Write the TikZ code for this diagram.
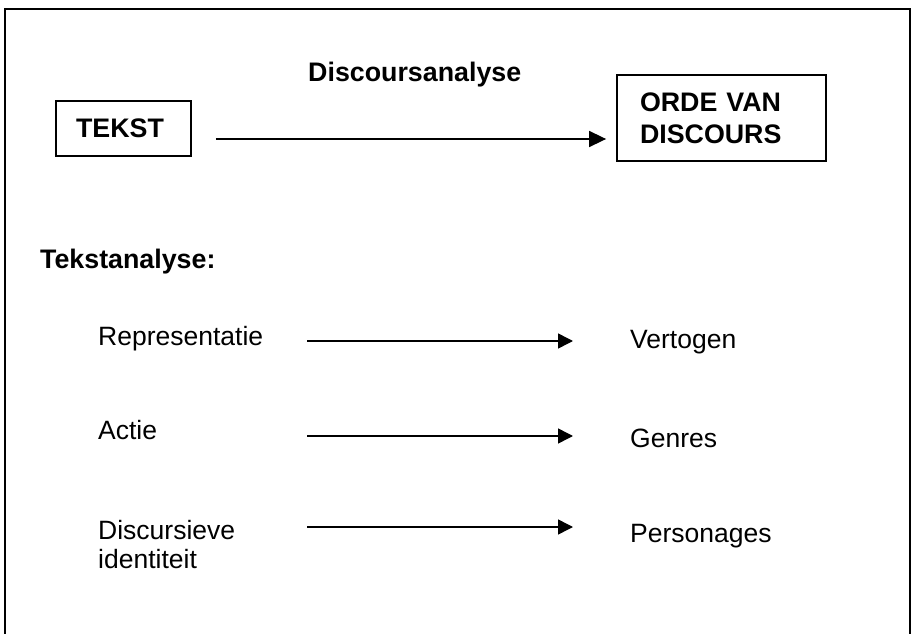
\documentclass[tikz,border=0pt]{standalone}
\usepackage{fontspec}
\setmainfont{Liberation Sans}
\usetikzlibrary{arrows.meta}
\begin{document}
\begin{tikzpicture}[x=1pt,y=-1pt,
  txt/.style={font=\fontsize{26.5}{29}\selectfont, inner sep=0pt, anchor=base west},
  btxt/.style={font=\fontsize{26.8}{32}\selectfont\bfseries, inner sep=0pt, anchor=base west},
  boxnode/.style={draw, line width=1.8pt, inner sep=0pt, font=\fontsize{26.8}{32}\selectfont\bfseries},
  arr/.style={line width=1.5pt, -{Triangle[length=15pt,width=15pt]}},
  bigarr/.style={line width=1.6pt, -{Triangle[length=17pt,width=16pt]}}]
\useasboundingbox (0,0) rectangle (914,634);
\fill[white] (0,0) rectangle (914,634);
% outer frame (open at the bottom)
\draw[line width=2pt] (5,640) -- (5,9) -- (910,9) -- (910,640);

% top row
\node[btxt] (disc) at (308,82) {Discoursanalyse};
\node[boxnode, minimum width=135pt, minimum height=55pt, text width=110pt, align=center] (tekst) at (123.5,128.5) {\hspace*{-7pt}TEKST};
\node[boxnode, minimum width=209pt, minimum height=86pt, text width=163pt, align=left] (orde) at (721.5,118) {ORDE VAN\\DISCOURS};
\draw[bigarr] ([xshift=24pt,yshift=-10.5pt]tekst.east) -- ([xshift=-10pt,yshift=-21pt]orde.west);

% text analysis
\node[btxt] (tana) at (40,268) {Tekstanalyse:};

\node[txt] (rep) at (98,345) {Representatie};
\node[txt] (act) at (98,439) {Actie};
\node[font=\fontsize{26.5}{29}\selectfont, inner sep=0pt, anchor=north west, align=left] (dis) at (98,520) {Discursieve\\identiteit};

\node[txt] (vert) at (630,348) {Vertogen};
\node[txt] (gen) at (630,447) {Genres};
\node[txt] (pers) at (630,542) {Personages};

\coordinate (a1) at (307,341);
\coordinate (a2) at (307,436);
\coordinate (a3) at (307,527);
\draw[arr, shorten >=57pt] (a1) -- (a1 -| vert.west);
\draw[arr, shorten >=57pt] (a2) -- (a2 -| gen.west);
\draw[arr, shorten >=57pt] (a3) -- (a3 -| pers.west);
\end{tikzpicture}
\end{document}
